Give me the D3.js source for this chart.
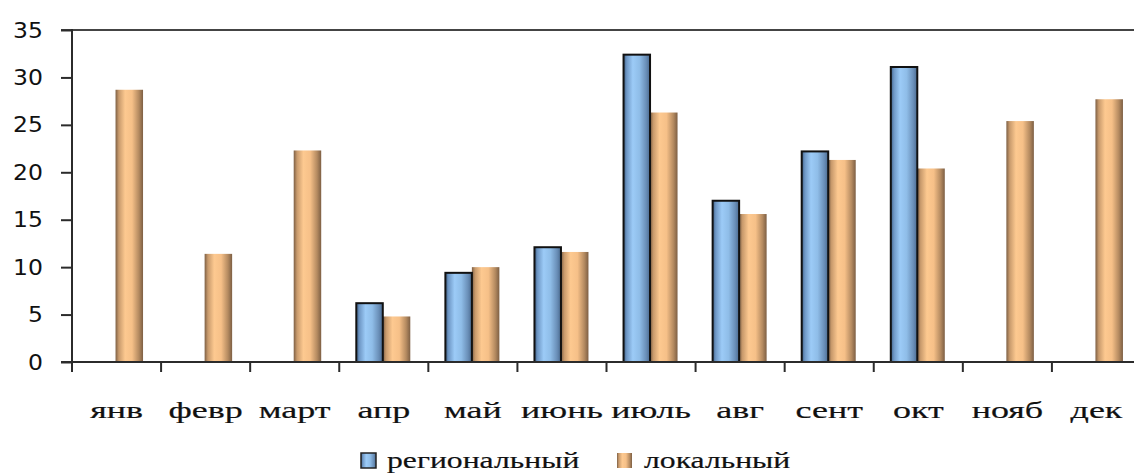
<!DOCTYPE html>
<html>
<head>
<meta charset="utf-8">
<script src="https://cdn.jsdelivr.net/npm/d3@7"></script>
<style>
  html, body { margin: 0; padding: 0; background: #fff; }
  svg { display: block; }
</style>
</head>
<body>
<svg id="chart" width="1134" height="475"></svg>
<script>
// Monthly values for two series
const months = ["янв", "февр", "март", "апр", "май", "июнь", "июль", "авг", "сент", "окт", "нояб", "дек"];
const regional = [null, null, null, 6.2, 9.4, 12.1, 32.4, 17.0, 22.2, 31.1, null, null];
const local = [28.7, 11.4, 22.3, 4.8, 10.0, 11.6, 26.3, 15.6, 21.3, 20.4, 25.4, 27.7];
const seriesNames = ["региональный", "локальный"];
const yTicks = [0, 5, 10, 15, 20, 25, 30, 35];

const svg = d3.select("#chart");
const plotLeft = 72, plotRight = 1141, plotTop = 30, plotBottom = 362;

const x = d3.scaleBand().domain(months).range([plotLeft, plotRight]).paddingInner(0).paddingOuter(0);
const y = d3.scaleLinear().domain([0, 35]).range([plotBottom, plotTop]);
const inner = d3.scaleBand().domain([0, 1]).range([-1, x.bandwidth() - 1]).paddingInner(0).paddingOuter(0.62);

// Cylinder-like horizontal shading for the bars
const defs = svg.append("defs");
function grad(id, stops) {
  const g = defs.append("linearGradient").attr("id", id)
    .attr("x1", "0").attr("y1", "0").attr("x2", "1").attr("y2", "0");
  stops.forEach(([o, c]) => g.append("stop").attr("offset", o).attr("stop-color", c));
}
grad("gBlue", [[0, "#3f5f85"], [0.12, "#6f98c6"], [0.35, "#9ccbf7"], [0.6, "#8fbde8"], [0.85, "#6a8fb8"], [1, "#4a6a90"]]);
grad("gOrange", [[0, "#7d5f44"], [0.12, "#c89a6c"], [0.35, "#fdc990"], [0.6, "#f6c088"], [0.85, "#b48a60"], [1, "#7d5f44"]]);

const axisColor = "#2b2b2b";

// Top reference line at the axis maximum
svg.append("line")
  .attr("x1", plotLeft - 11).attr("x2", 1134)
  .attr("y1", y(35)).attr("y2", y(35))
  .attr("stroke", "#444").attr("stroke-width", 2);

// Bars: local series
svg.append("g").selectAll("rect")
  .data(local.map((v, i) => ({ m: months[i], v })).filter(d => d.v != null))
  .join("rect")
  .attr("x", d => x(d.m) + inner(1))
  .attr("y", d => y(d.v))
  .attr("width", inner.bandwidth())
  .attr("height", d => y(0) - y(d.v))
  .attr("fill", "url(#gOrange)");

// Bars: regional series
svg.append("g").selectAll("rect")
  .data(regional.map((v, i) => ({ m: months[i], v })).filter(d => d.v != null))
  .join("rect")
  .attr("x", d => x(d.m) + inner(0) + 1)
  .attr("y", d => y(d.v))
  .attr("width", inner.bandwidth() - 1)
  .attr("height", d => y(0) - y(d.v))
  .attr("fill", "url(#gBlue)")
  .attr("stroke", "#111").attr("stroke-width", 2);

// Y axis
const yAxis = svg.append("g").attr("transform", `translate(${plotLeft},0)`)
  .call(d3.axisLeft(y).tickValues(yTicks).tickSize(11).tickPadding(0).tickFormat(d3.format("d")));
yAxis.select(".domain").remove();
yAxis.selectAll(".tick line").attr("stroke", axisColor).attr("stroke-width", 2);
yAxis.selectAll(".tick text").remove();
svg.append("line").attr("x1", plotLeft).attr("x2", plotLeft).attr("y1", plotTop - 1).attr("y2", plotBottom + 10)
  .attr("stroke", axisColor).attr("stroke-width", 2);

// Y tick labels
svg.append("g").selectAll("text").data(yTicks).join("text")
  .attr("transform", d => `translate(43,${y(d)}) scale(1.12,1)`)
  .attr("text-anchor", "end").attr("dy", "0.36em")
  .attr("font-family", "DejaVu Sans, Verdana, sans-serif").attr("font-size", 21)
  .attr("fill", "#111").text(d => d);

// X axis
const xAxis = svg.append("g").attr("transform", `translate(0,${plotBottom})`)
  .call(d3.axisBottom(x).tickSize(0).tickFormat(""));
xAxis.select(".domain").remove();
svg.append("line").attr("x1", plotLeft - 11).attr("x2", 1134).attr("y1", plotBottom).attr("y2", plotBottom)
  .attr("stroke", axisColor).attr("stroke-width", 2);
svg.append("g").selectAll("line").data(months).join("line")
  .attr("x1", d => x(d)).attr("x2", d => x(d))
  .attr("y1", plotBottom).attr("y2", plotBottom + 10)
  .attr("stroke", axisColor).attr("stroke-width", 2);

// Month labels
svg.append("g").selectAll("text").data(months).join("text")
  .attr("transform", d => `translate(${x(d) + x.bandwidth() / 2},418) scale(1.5,1)`)
  .attr("text-anchor", "middle")
  .attr("font-family", "Liberation Serif, Times New Roman, serif").attr("font-size", 24)
  .attr("stroke", "#111").attr("stroke-width", 0.2)
  .attr("fill", "#111").text(d => d);

// Legend
const legend = svg.append("g");
const legendItems = [
  { name: seriesNames[0], fill: "url(#gBlue)", stroke: "#222", x: 361, tx: 387 },
  { name: seriesNames[1], fill: "url(#gOrange)", stroke: "none", x: 617, tx: 644 }
];
legendItems.forEach(it => {
  legend.append("rect").attr("x", it.x).attr("y", 453).attr("width", 15).attr("height", 15)
    .attr("fill", it.fill).attr("stroke", it.stroke).attr("stroke-width", 1.5);
  legend.append("text")
    .attr("transform", `translate(${it.tx},468) scale(1.32,1)`)
    .attr("font-family", "Liberation Serif, Times New Roman, serif").attr("font-size", 24)
    .attr("stroke", "#111").attr("stroke-width", 0.2)
    .attr("fill", "#111").text(it.name);
});
</script>
</body>
</html>
